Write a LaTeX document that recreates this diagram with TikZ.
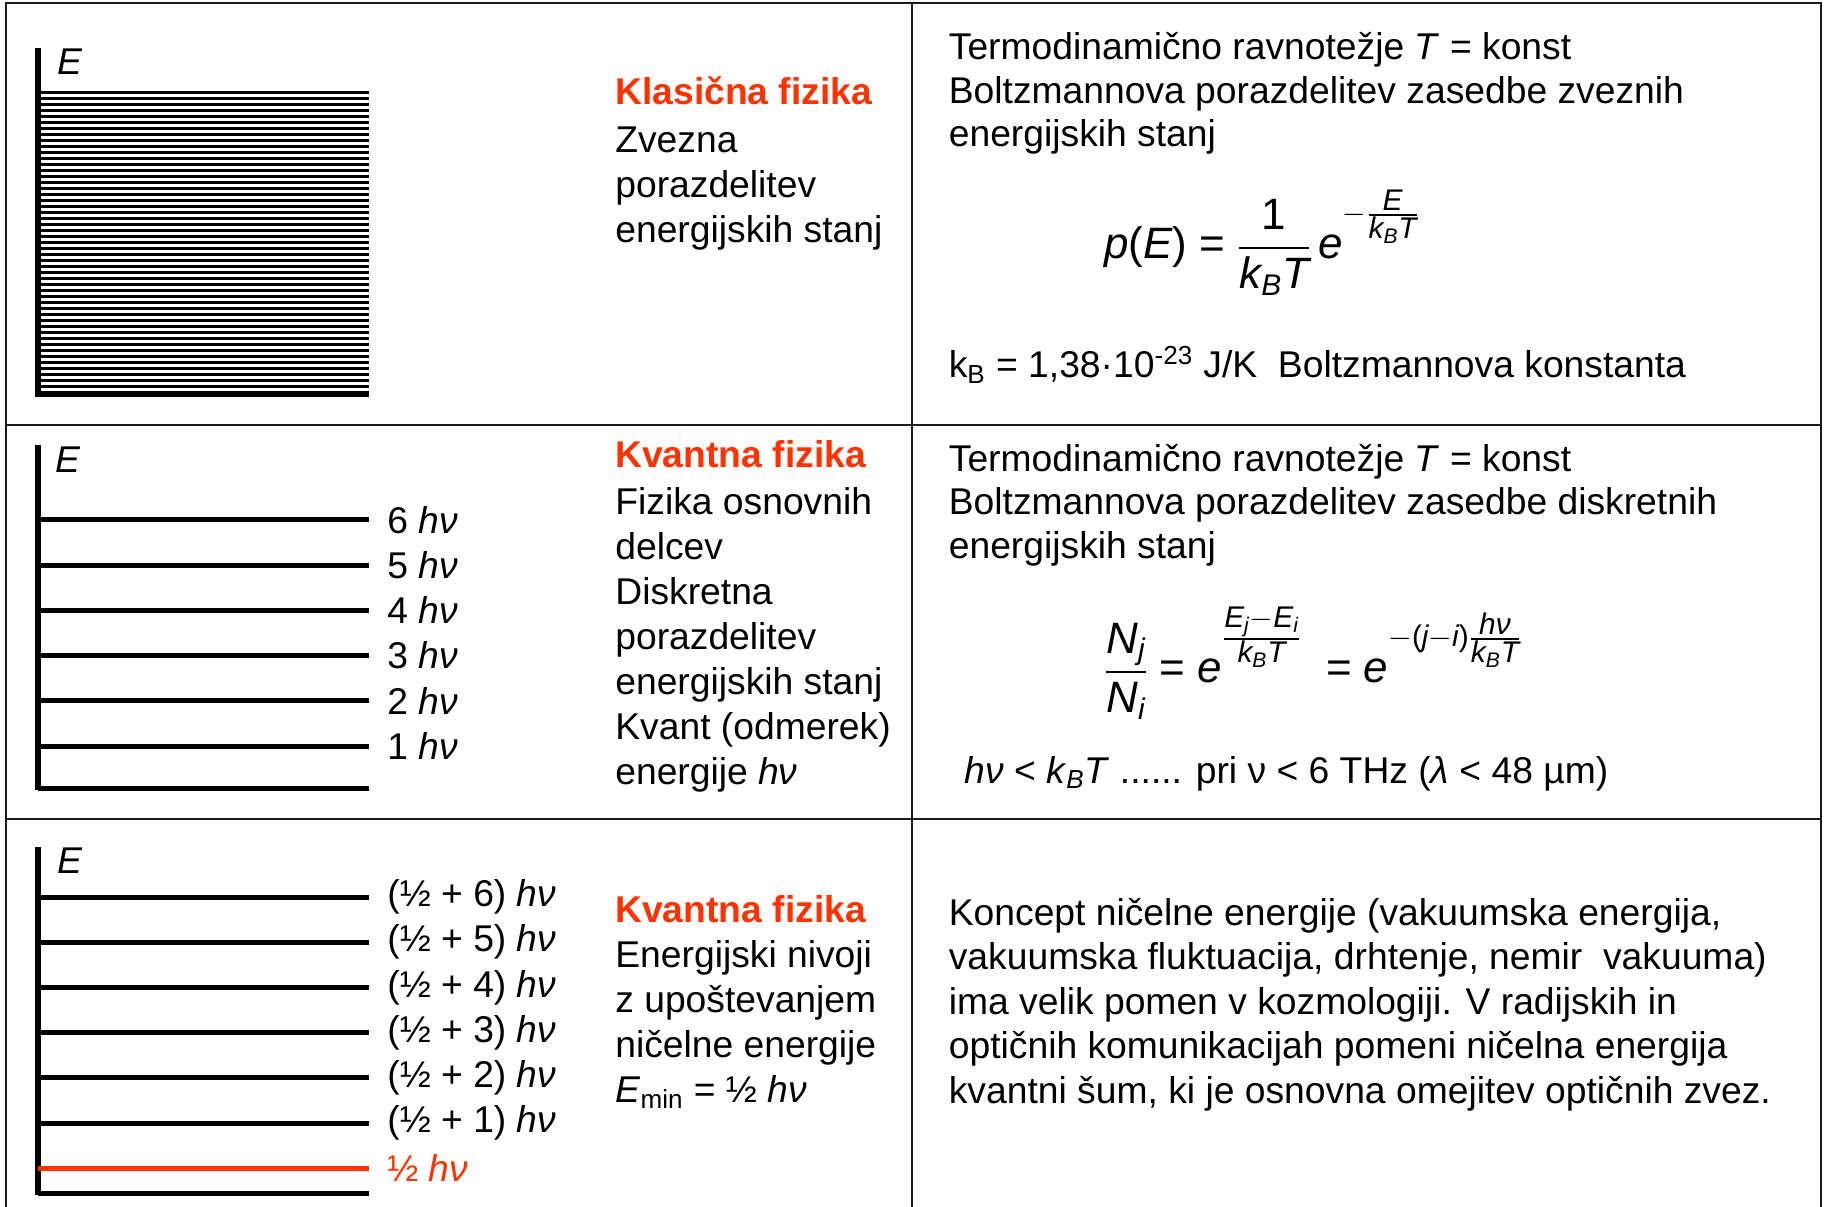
\documentclass[tikz,border=0pt]{standalone}
\usepackage{amsmath}
\usepackage{fontspec}
\setmainfont{Liberation Sans}
\DeclareMathSizes{25}{25}{17}{12}
\definecolor{qred}{HTML}{FF3300}
\definecolor{qink}{HTML}{000000}
\definecolor{qrule}{HTML}{1A1A1A}
\newcommand\bodysize{\fontsize{21.2}{25.7}\selectfont}
\newcommand\eqsize{\fontsize{25}{30}\selectfont}
\newcommand\dnstrut{\rule[-9pt]{0pt}{0pt}}
\newcommand\qeq{\mathrel{\text{=}}}
\tikzset{
  cellrule/.style={draw=qrule,line width=1pt},
  axis/.style={draw=qink,line width=1.1mm},
  level/.style={draw=qink,line width=1mm},
  hatch/.style={draw=qink,line width=.6mm},
  elabel/.style={font=\bodysize\itshape,text=qink},
  lvlab/.style={anchor=west,inner sep=0pt,font=\bodysize,text=qink},
  txt/.style={anchor=base west,inner sep=0pt,font=\bodysize,text=qink},
  head/.style={txt,font=\bodysize\bfseries,text=qred},
  eqn/.style={anchor=base west,inner sep=0pt,font=\eqsize,text=qink},
}
\begin{document}
\begin{tikzpicture}
  \useasboundingbox (0,0) rectangle (36.5,-24.14);
  % table
  \draw[cellrule] (0.12,-24.14) -- (0.12,-0.06) -- (36.42,-0.06) -- (36.42,-24.14);
  \draw[cellrule] (18.24,-0.06) -- (18.24,-24.14);
  \draw[cellrule] (0.12,-8.5) -- (36.42,-8.5);
  \draw[cellrule] (0.12,-16.38) -- (36.42,-16.38);
  % row 1: continuous states
  \coordinate (t1) at (0.76,-0.96); \coordinate (o1) at (0.76,-7.94);
  \draw[axis] (t1) -- (o1);
  \foreach \k in {0,...,49}
    \draw[hatch] (0.76,-1.86-0.12*\k) -- (7.38,-1.86-0.12*\k);
  \coordinate (z1) at (0.70,-7.88); \coordinate (z1r) at (7.38,-7.88);
  \draw[axis,line width=1.3mm] (z1) -- (z1r);
  \node[elabel] (e1) at (1.4,-1.24) {E};
  \node[head] (h1) at (12.30,-2.10) {Klasična fizika};
  \foreach \ln [count=\i from 0] in {Zvezna,porazdelitev,energijskih stanj}
    \node[txt] (c1\i) at (12.30,-3.06-0.9*\i) {\ln};
  \foreach \ln [count=\i from 0] in {{Termodinamično ravnotežje \textit{T} = konst},{Boltzmannova porazdelitev zasedbe zveznih},{energijskih stanj}}
    \node[txt] (r1\i) at (18.97,-1.20-0.87*\i) {\ln};
  \node[eqn] (pe) at (22.08,-5.18) {$\displaystyle \mathit{p}\text{(}\mathit{E}\text{)}\qeq\frac{\text{1}}{\mathit{k_BT}}\,\mathit{e}^{-\frac{\scriptstyle\mathit{E}}{\scriptstyle\mathit{k_BT}\dnstrut}}$};
  \node[txt] (kb) at (18.97,-7.56) {k\textsubscript{B} = 1,38·10\textsuperscript{-23} J/K\ \ Boltzmannova konstanta};
  % row 2: discrete states
  \coordinate (t2) at (0.76,-8.90); \coordinate (o2) at (0.76,-15.80);
  \draw[axis] (t2) -- (o2);
  \node[elabel] (e2) at (1.35,-9.20) {E};
  \foreach \n in {1,...,6} {
    \coordinate (a2\n) at (0.76,-14.92+0.904*\n-0.904);
    \node[lvlab] (q\n) at (7.74,-14.92+0.904*\n-0.904) {\n\ \textit{hν}};
    \draw[level,shorten >=.36cm] (a2\n) -- (q\n.west);
  }
  \coordinate (z2) at (0.76,-15.76); \coordinate (z2r) at (7.38,-15.76);
  \draw[level] (z2) -- (z2r);
  \node[head] (h2) at (12.30,-9.36) {Kvantna fizika};
  \foreach \ln [count=\i from 0] in {Fizika osnovnih,delcev,Diskretna,porazdelitev,energijskih stanj,Kvant (odmerek),energije \textit{hν}}
    \node[txt] (c2\i) at (12.30,-10.30-0.9*\i) {\ln};
  \foreach \ln [count=\i from 0] in {{Termodinamično ravnotežje \textit{T} = konst},{Boltzmannova porazdelitev zasedbe diskretnih},{energijskih stanj}}
    \node[txt] (r2\i) at (18.97,-9.44-0.86*\i) {\ln};
  \node[eqn] (nn) at (22.08,-13.66) {$\displaystyle\frac{\mathit{N_j}}{\mathit{N_i}}\qeq\mathit{e}^{\frac{\scriptstyle\mathit{E_j-E_i}}{\scriptstyle\mathit{k_BT}\dnstrut}}\;\qeq\mathit{e}^{-\text{(}\mathit{j-i}\text{)}\frac{\scriptstyle\textit{hν}}{\scriptstyle\mathit{k_BT}\dnstrut}}$};
  \node[txt] (hv) at (19.28,-15.66) {\textit{hν} < \textit{k}\textsubscript{\textit{B}}\textit{T} ...... pri ν < 6 THz (\textit{λ} < 48 µm)};
  % row 3: zero-point energy
  \coordinate (t3) at (0.76,-16.94); \coordinate (o3) at (0.76,-23.90);
  \draw[axis] (t3) -- (o3);
  \node[elabel] (e3) at (1.4,-17.22) {E};
  \foreach \n in {1,...,6} {
    \coordinate (a3\n) at (0.76,-22.46+0.904*\n-0.904);
    \node[lvlab] (p\n) at (7.74,-22.46+0.904*\n-0.904) {(½ + \n) \textit{hν}};
    \draw[level,shorten >=.36cm] (a3\n) -- (p\n.west);
  }
  \coordinate (a30) at (0.76,-23.36);
  \node[lvlab,text=qred] (p0) at (7.74,-23.36) {½ \textit{hν}};
  \draw[level,draw=qred,shorten >=.36cm] (a30) -- (p0.west);
  \coordinate (z3) at (0.76,-23.86); \coordinate (z3r) at (7.38,-23.86);
  \draw[level] (z3) -- (z3r);
  \node[head] (h3) at (12.30,-18.44) {Kvantna fizika};
  \foreach \ln [count=\i from 0] in {Energijski nivoji,z upoštevanjem,ničelne energije,{\textit{E}\textsubscript{min} = ½ \textit{hν}}}
    \node[txt] (c3\i) at (12.30,-19.34-0.9*\i) {\ln};
  \foreach \ln [count=\i from 0] in {{Koncept ničelne energije (vakuumska energija,},{vakuumska fluktuacija, drhtenje, nemir\ \ vakuuma)},{ima velik pomen v kozmologiji. V radijskih in},{optičnih komunikacijah pomeni ničelna energija},{kvantni šum, ki je osnovna omejitev optičnih zvez.}}
    \node[txt] (r3\i) at (18.97,-18.50-0.89*\i) {\ln};
\end{tikzpicture}
\end{document}
